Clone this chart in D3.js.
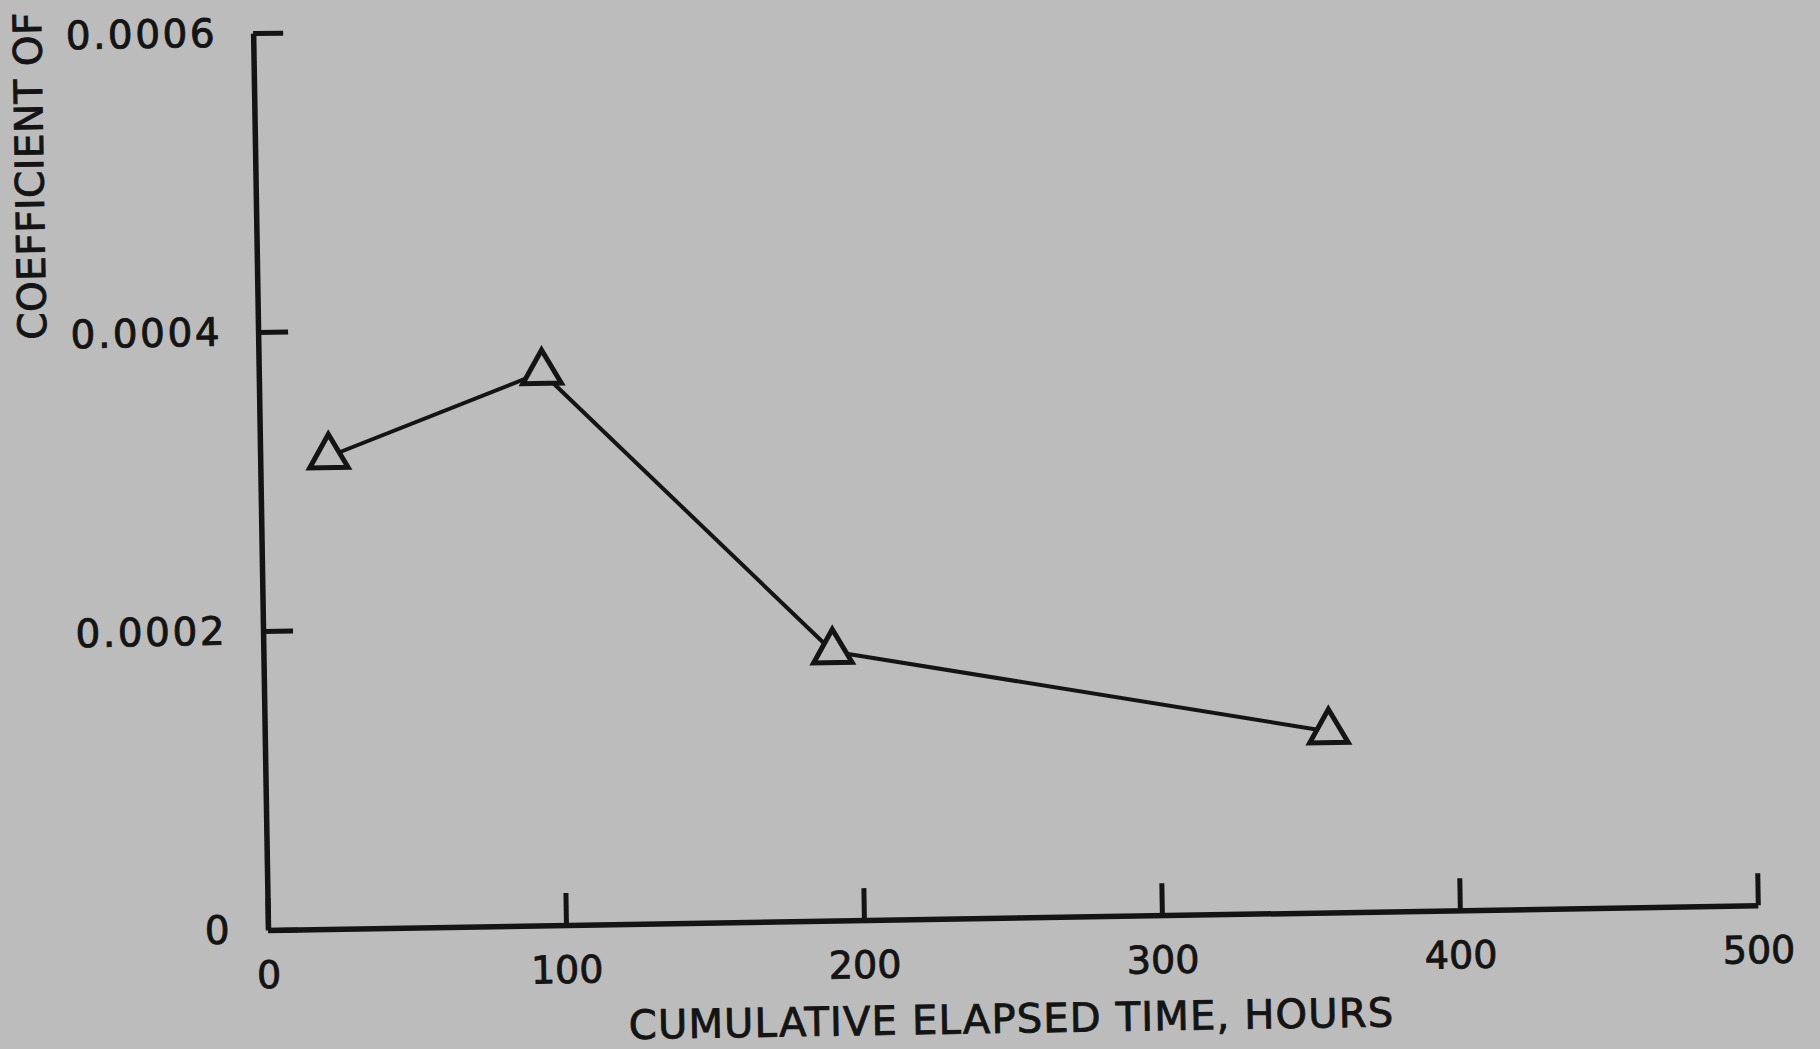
<!DOCTYPE html>
<html><head><meta charset="utf-8">
<script src="https://cdn.jsdelivr.net/npm/d3@7"></script>
<style>html,body{margin:0;padding:0;background:#bcbcbc;} svg{display:block}</style>
</head><body>
<script>
// ---- data ----
const hours = [23, 95, 191, 357];
const coefficient = [0.000316, 0.000370, 0.000180, 0.000121];
const xTickValues = [0, 100, 200, 300, 400, 500];
const xTickLabels = ["0", "100", "200", "300", "400", "500"];
const yTickValues = [0, 0.0002, 0.0004, 0.0006];
const yTickLabels = ["0", "0.0002", "0.0004", "0.0006"];
const xTitle = "CUMULATIVE ELAPSED TIME, HOURS";
const yTitle = "COEFFICIENT OF";

const W = 1820, H = 1049;
const ink = "#141414", paper = "#bcbcbc";
const font = "'DejaVu Sans', 'Liberation Sans', sans-serif";

const svg = d3.select("body").append("svg").attr("width", W).attr("height", H);
svg.append("rect").attr("width", W).attr("height", H).attr("fill", paper);

// scanned page is slightly rotated
const g = svg.append("g").attr("transform", "translate(268,930) rotate(-0.95)");

const x = d3.scaleLinear().domain([0, 500]).range([0, 1490]);
const y = d3.scaleLinear().domain([0, 0.0006]).range([0, -897]);

function inkText(sel, size) {
  sel.attr("fill", ink).attr("font-family", font).attr("font-size", size)
     .attr("stroke", ink).attr("stroke-width", 0.9);
}

// x axis
const xAxis = d3.axisBottom(x)
  .tickValues(xTickValues)
  .tickFormat((d, i) => xTickLabels[i])
  .tickSizeInner(-32).tickSizeOuter(0).tickPadding(31);
const gx = g.append("g").call(xAxis);
gx.select(".domain").attr("stroke", ink).attr("stroke-width", 5.5);
gx.selectAll(".tick line").attr("stroke", ink).attr("stroke-width", 5);
gx.selectAll(".tick text").call(inkText, 38);

// y axis
const yAxis = d3.axisLeft(y)
  .tickValues(yTickValues)
  .tickFormat((d, i) => yTickLabels[i])
  .tickSizeInner(-30).tickSizeOuter(0).tickPadding(36);
const gy = g.append("g").call(yAxis);
gy.select(".domain").attr("stroke", ink).attr("stroke-width", 5.5);
gy.selectAll(".tick line").attr("stroke", ink).attr("stroke-width", 5);
gy.selectAll(".tick text").call(inkText, 39).attr("letter-spacing", 2.5);

// series line
const pts = hours.map((h, i) => [h, coefficient[i]]);
g.append("path")
  .datum(pts)
  .attr("fill", "none").attr("stroke", ink).attr("stroke-width", 4)
  .attr("stroke-linejoin", "round")
  .attr("d", d3.line().x(d => x(d[0])).y(d => y(d[1])));

// triangle markers
g.selectAll("path.mark").data(pts).join("path")
  .attr("class", "mark")
  .attr("transform", d => `translate(${x(d[0])},${y(d[1])})`)
  .attr("d", d3.symbol(d3.symbolTriangle, 640)())
  .attr("fill", paper).attr("stroke", ink).attr("stroke-width", 5)
  .attr("stroke-linejoin", "miter");

// axis titles
g.append("text")
  .attr("x", 742).attr("y", 115)
  .attr("text-anchor", "middle")
  .attr("letter-spacing", 1.2)
  .call(inkText, 40)
  .text(xTitle);

g.append("text")
  .attr("transform", "translate(-212,-594) rotate(-90)")
  .attr("text-anchor", "start")
  .attr("letter-spacing", 0.5)
  .call(inkText, 39)
  .text(yTitle);
</script>
</body></html>
